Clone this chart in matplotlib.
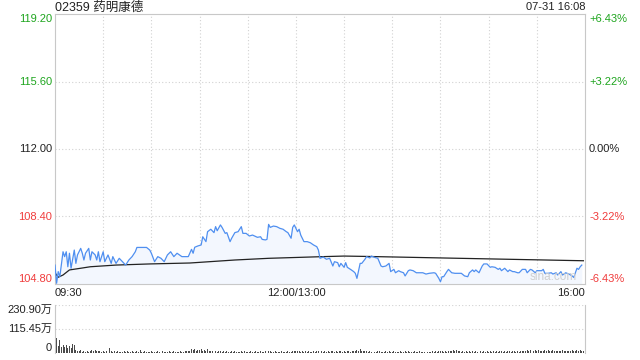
import matplotlib
matplotlib.use("Agg")
import matplotlib.pyplot as plt
import matplotlib.transforms as mtransforms

plt.rcParams['font.family'] = ['Liberation Sans', 'Noto Sans CJK SC', 'DejaVu Sans']

# ---------------- data ----------------
title = "02359 药明康德"
stamp = "07-31 16:08"
prev_close = 112.00
price_ticks = [104.80, 108.40, 112.00, 115.60, 119.20]
pct_ticks = ["-6.43%", "-3.22%", "0.00%", "+3.22%", "+6.43%"]
time_labels = ["09:30", "12:00/13:00", "16:00"]
time_label_pos = [0, 150, 330]          # trading minutes from open
vol_ticks = [0, 115.45, 230.90]         # 万
vol_tick_labels = ["0", "115.45万", "230.90万"]

# minute index (trading minutes from 09:30, lunch break removed) and price
price_t = [0, 1, 2, 3, 5, 6, 7, 8, 9, 10, 12, 13, 14, 16, 17, 18, 19, 21, 22, 23,
           25, 26, 27, 28, 30, 31, 33, 35, 36, 38, 40, 42, 44, 46, 48, 50, 51, 57, 59, 60,
           62, 64, 66, 68, 70, 72, 74, 76, 79, 81, 83, 85, 86, 87, 89, 91, 92, 94, 95, 97,
           99, 100, 101, 103, 104, 106, 107, 109, 110, 112, 114, 116, 117, 119, 121, 123, 126, 128, 129, 131,
           132, 133, 134, 136, 138, 140, 142, 144, 145, 147, 148, 149, 151, 152, 153, 155, 157, 159, 161, 163,
           164, 165, 167, 169, 171, 173, 174, 176, 177, 178, 180, 181, 182, 184, 186, 187, 188, 190, 191, 193,
           194, 196, 197, 199, 201, 203, 204, 206, 208, 209, 211, 212, 214, 215, 217, 218, 220, 221, 223, 225,
           227, 229, 231, 233, 236, 237, 239, 240, 241, 242, 244, 245, 247, 249, 251, 253, 255, 257, 258, 260,
           261, 262, 264, 266, 267, 269, 271, 272, 274, 276, 277, 278, 280, 282, 283, 285, 286, 288, 289, 291,
           293, 294, 296, 297, 299, 300, 303, 304, 305, 307, 309, 310, 312, 313, 315, 316, 318, 320, 322, 323,
           324, 325, 326, 327, 328]
price_v = [105.81, 104.84, 105.46, 105.19, 106.52, 106.26, 106.52, 105.72, 106.44, 105.64,
           106.61, 105.90, 106.35, 106.70, 106.44, 106.08, 106.44, 106.70, 106.08, 106.52,
           106.35, 106.08, 106.52, 105.99, 106.52, 105.99, 106.35, 105.90, 106.26, 105.90,
           106.17, 105.99, 105.81, 106.08, 106.26, 106.52, 106.75, 106.75, 106.61, 106.44,
           105.99, 106.26, 106.17, 105.99, 106.35, 106.52, 106.26, 106.44, 106.26, 106.26,
           106.26, 106.65, 106.44, 106.76, 106.83, 106.88, 107.32, 107.06, 107.59, 107.72,
           107.54, 107.86, 107.64, 107.95, 107.82, 107.50, 107.54, 107.06, 107.24, 107.54,
           107.59, 107.86, 107.50, 107.50, 107.36, 107.41, 107.29, 107.32, 107.18, 107.15,
           107.18, 107.98, 107.82, 107.89, 107.86, 107.77, 107.72, 107.59, 107.54, 107.24,
           107.82, 107.95, 107.59, 107.72, 107.41, 107.06, 107.06, 107.00, 106.88, 106.79,
           106.61, 106.17, 106.24, 106.12, 106.17, 105.76, 105.99, 105.94, 105.72, 105.90,
           105.69, 105.94, 105.69, 105.58, 105.46, 105.37, 105.10, 105.90, 105.90, 106.12,
           106.26, 106.19, 106.29, 106.22, 106.17, 105.76, 105.72, 105.76, 105.90, 105.46,
           105.58, 105.40, 105.51, 105.46, 105.40, 105.23, 105.51, 105.55, 105.51, 105.40,
           105.40, 105.40, 105.33, 105.37, 105.40, 105.37, 105.10, 104.92, 105.19, 105.19,
           105.46, 105.58, 105.40, 105.37, 105.37, 105.37, 105.23, 105.19, 105.40, 105.55,
           105.46, 105.55, 105.40, 105.76, 105.87, 105.87, 105.69, 105.72, 105.69, 105.58,
           105.64, 105.51, 105.64, 105.46, 105.55, 105.46, 105.46, 105.40, 105.40, 105.58,
           105.58, 105.40, 105.58, 105.55, 105.40, 105.51, 105.51, 105.58, 105.37, 105.37,
           105.40, 105.33, 105.40, 105.28, 105.46, 105.28, 105.40, 105.33, 105.23, 105.15,
           105.40, 105.64, 105.58, 105.72, 105.81]

avg_t = [0, 2, 5, 9, 16, 22, 38, 59, 84, 112, 133, 167, 180, 194, 252, 329]
avg_v = [105.40, 105.16, 105.28, 105.55, 105.64, 105.72, 105.81, 105.87, 105.92, 106.08,
         106.17, 106.26, 106.29, 106.27, 106.17, 106.04]

# volume per trading minute, in 万 shares
volume = [230.9,
          72, 32, 64, 29, 40, 29, 40, 24, 32, 24, 45, 40, 16, 12, 10, 14,
          6, 8, 5, 9, 7, 12, 14, 10, 13, 8, 11, 9, 7, 10,
          6, 8, 12, 24, 9, 7, 10, 6, 8, 5,
          7, 6, 9, 5, 8, 6, 7, 10, 5, 6,
          8, 5, 16, 7, 6, 9, 5, 7, 6, 8,
          5, 7, 6, 9, 5, 6, 8, 5, 7, 6,
          9, 6, 5, 8, 6, 7, 5, 9, 6, 7,
          8, 10, 12, 9, 18, 14, 21, 11, 16, 13,
          19, 10, 15, 12, 17, 9, 8, 11, 7, 9,
          6, 8, 10, 7, 9, 6, 8, 5, 7, 9,
          6, 8, 5, 7, 6, 9, 5, 8, 6, 7,
          5, 8, 6, 7, 9, 5, 6, 8, 5, 7,
          9, 6, 11, 8, 7, 6, 9, 5, 7, 6,
          8, 5, 7, 6, 9, 7, 5, 10, 8, 9,
          12, 8, 6, 9, 7, 10, 6, 8, 5, 7,
          9, 6, 8, 11, 13, 9, 7, 8, 6, 9,
          7, 10, 8, 6, 9, 7, 12, 8, 6, 9,
          7, 8, 10, 6, 9, 11, 8, 13, 10, 17,
          9, 12, 8, 10, 7, 9, 6, 8, 7, 6,
          8, 9, 6, 7, 5, 8, 6, 10, 7, 6,
          9, 5, 7, 6, 8, 5, 7, 9, 6, 8,
          5, 7, 6, 8, 5, 6, 9, 5, 7, 6,
          8, 6, 5, 7, 9, 6, 8, 7, 10, 12,
          8, 7, 9, 6, 10, 8, 11, 14, 9, 13,
          10, 8, 7, 9, 6, 8, 7, 10, 6, 8,
          7, 9, 6, 8, 10, 7, 9, 6, 8, 7,
          9, 6, 8, 7, 10, 6, 9, 8, 7, 9,
          6, 8, 10, 7, 9, 8, 6, 10, 7, 9,
          8, 11, 9, 13, 10, 15, 9, 12, 16, 11,
          14, 9, 12, 10, 15, 8, 13, 11, 9, 14,
          10, 12, 8, 11, 9, 13, 10, 8, 12, 9,
          11, 14, 10, 12, 15, 9, 13, 11, 10, 48]

# ---------------- style ----------------
GREEN = '#1ea51e'
RED = '#f03c3c'
BLACK = '#222222'
GRID = '#d2d2d2'
SPINE = '#c8c8c8'
BLUE = '#4f8ff0'
FS = 8
DOT = (0, (1, 2))

W, H = 640, 360
fig = plt.figure(figsize=(6.4, 3.6), dpi=100)
ax = fig.add_axes([55 / W, 76 / H, 530 / W, 270 / H])
vax = fig.add_axes([55 / W, 7 / H, 530 / W, 48 / H])

T0, T1 = 0, 330

# main panel
ax.set_xlim(T0, T1)
ax.set_ylim(price_ticks[0], price_ticks[-1])
ax.set_xticks([])
ax.set_yticks([])
for s in ax.spines.values():
    s.set_color(SPINE)
    s.set_linewidth(0.8)
for gx in range(30, 330, 30):
    ax.axvline(gx, color=GRID, lw=0.8, ls=DOT, zorder=0)
for gy in price_ticks[1:-1]:
    ax.axhline(gy, color=GRID, lw=0.8, ls=DOT, zorder=0)

ax.fill_between(price_t, price_v, price_ticks[0], color='#f3f7fe', lw=0, zorder=1)
ax.plot(price_t, price_v, color=BLUE, lw=0.9, zorder=3)
ax.plot(avg_t, avg_v, color=BLACK, lw=0.9, zorder=2)

ax.text(0.985, 0.005, "sina.com", transform=ax.transAxes, ha='right', va='bottom',
        color='#cfcfcf', fontsize=8.5, zorder=4)

lt = mtransforms.blended_transform_factory(fig.transFigure, ax.transData)
n = len(price_ticks)
for i, (pv, pl) in enumerate(zip(price_ticks, pct_ticks)):
    col = GREEN if pv > prev_close else (RED if pv < prev_close else BLACK)
    va = 'bottom' if i == 0 else ('top' if i == n - 1 else 'center')
    ax.text(52 / W, pv, f"{pv:.2f}", transform=lt, ha='right', va=va, color=col, fontsize=FS)
    ax.text(589 / W, pv, pl, transform=lt, ha='left', va=va, color=col, fontsize=FS)

# time labels
tt = mtransforms.blended_transform_factory(ax.transData, fig.transFigure)
for lab, pos in zip(time_labels, time_label_pos):
    ha = 'left' if pos == T0 else ('right' if pos == T1 else 'center')
    ax.text(pos, 1 - 293 / H, lab, transform=tt, ha=ha, va='center', color=BLACK, fontsize=FS)

# title / stamp
fig.text(55 / W, 1 - 7.5 / H, title, ha='left', va='center', color=BLACK, fontsize=9)
fig.text(585 / W, 1 - 7.5 / H, stamp, ha='right', va='center', color=BLACK, fontsize=FS)

# volume panel
vax.set_xlim(T0, T1)
vax.set_ylim(0, vol_ticks[-1])
vax.set_xticks([])
vax.set_yticks([])
for k, s in vax.spines.items():
    s.set_visible(k in ('left', 'right'))
    s.set_color(SPINE)
    s.set_linewidth(0.8)
for gy in vol_ticks[1:]:
    vax.axhline(gy, color=GRID, lw=0.8, ls=DOT, zorder=0)
vax.bar(range(len(volume)), volume, width=0.6, color='#4a4a4a', lw=0, zorder=2)

vt = mtransforms.blended_transform_factory(fig.transFigure, vax.transData)
for i, (vv, vl) in enumerate(zip(vol_ticks, vol_tick_labels)):
    va = 'bottom' if i == 0 else ('top' if i == len(vol_ticks) - 1 else 'center')
    vax.text(52 / W, vv, vl, transform=vt, ha='right', va=va, color=BLACK, fontsize=FS)

fig.savefig("out.png", dpi=100)
